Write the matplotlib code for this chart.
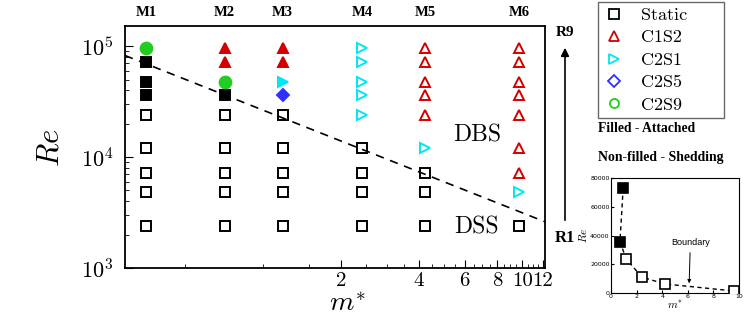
import numpy as np
import matplotlib
matplotlib.use('Agg')
import matplotlib.pyplot as plt
from matplotlib.lines import Line2D
from matplotlib.patches import FancyArrowPatch
from matplotlib.ticker import FixedLocator, FixedFormatter, LogLocator, NullFormatter

plt.rcParams['mathtext.fontset'] = 'cm'

# mass ratio of each case M1..M6
m_star = [0.353, 0.71, 1.19, 2.41, 4.22, 9.73]
m_names = ['M1', 'M2', 'M3', 'M4', 'M5', 'M6']
# Reynolds numbers R1..R9
re_vals = [2400, 4800, 7200, 12000, 24000, 36000, 48000, 72000, 96000]
# regime of each case, rows R1..R9 ('*' = filled = attached)
regimes = [
    ['S', 'S', 'S', 'S', 'S', 'S*', 'S*', 'S*', 'C2S9*'],
    ['S', 'S', 'S', 'S', 'S', 'S*', 'C2S9*', 'C1S2*', 'C1S2*'],
    ['S', 'S', 'S', 'S', 'S', 'C2S5*', 'C2S1*', 'C1S2*', 'C1S2*'],
    ['S', 'S', 'S', 'S', 'C2S1', 'C2S1', 'C2S1', 'C2S1', 'C2S1'],
    ['S', 'S', 'S', 'C2S1', 'C1S2', 'C1S2', 'C1S2', 'C1S2', 'C1S2'],
    ['S', 'C2S1', 'C1S2', 'C1S2', 'C1S2', 'C1S2', 'C1S2', 'C1S2', 'C1S2'],
]
legend_names = ['Static', 'C1S2', 'C2S1', 'C2S5', 'C2S9']
regime_keys = ['S', 'C1S2', 'C2S1', 'C2S5', 'C2S9']

# DBS / DSS boundary (straight in log-log)
bnd_m = [0.293, 12.25]
bnd_re = [82400, 2610]

# inset: boundary cases on linear axes
inset_m = [0.95, 0.7, 1.2, 2.4, 4.2, 9.6]
inset_re = [73000, 35500, 23600, 11100, 6300, 1400]
inset_filled = [True, True, False, False, False, False]

# marker, colour, size
style = {'S': ('s', 'k', 6.5),
         'C1S2': ('^', '#d40000', 7.5),
         'C2S1': ('>', '#00e6f6', 7.5),
         'C2S5': ('D', '#2f2fff', 6),
         'C2S9': ('o', '#22cc22', 8.5)}

W, H = 747, 320
fig = plt.figure(figsize=(W / 100, H / 100), dpi=100)

def px(x, y):
    return x / W, 1 - y / H

ax = fig.add_axes([125 / W, 1 - 268 / H, 420 / W, 242 / H])
ax.set_xscale('log')
ax.set_yscale('log')
ax.set_xlim(0.293, 12.25)
ax.set_ylim(1000, 1.52e5)

for j, m in enumerate(m_star):
    for i, re in enumerate(re_vals):
        code = regimes[j][i]
        filled = code.endswith('*')
        key = code.rstrip('*')
        mk, col, ms = style[key]
        ax.plot(m, re, linestyle='none', marker=mk, ms=ms, mec=col,
                mfc=col if filled else 'none', mew=1.4, zorder=3)

ax.plot(bnd_m, bnd_re, 'k--', lw=1.2, dashes=(5, 4), zorder=2)

ax.xaxis.set_major_locator(FixedLocator([2, 4, 6, 8, 10, 12]))
ax.xaxis.set_major_formatter(FixedFormatter(['2', '4', '6', '8', '10', '12']))
ax.xaxis.set_minor_locator(FixedLocator(np.arange(0.5, 12.1, 0.5)))
ax.xaxis.set_minor_formatter(NullFormatter())
ax.yaxis.set_major_locator(LogLocator(base=10, numticks=10))
ax.yaxis.set_minor_locator(LogLocator(base=10, subs=np.arange(2, 10), numticks=10))
ax.yaxis.set_minor_formatter(NullFormatter())
ax.tick_params(which='both', direction='in', top=False, right=False)
ax.tick_params(axis='x', which='major', length=6, labelsize=15, pad=3)
ax.tick_params(axis='x', which='minor', length=3)
ax.tick_params(axis='y', which='major', length=6, labelsize=16, pad=8.5)
ax.tick_params(axis='y', which='minor', length=3)
for lab in ax.get_xticklabels() + ax.get_yticklabels():
    lab.set_fontfamily('cmr10')
for s in ax.spines.values():
    s.set_linewidth(1.3)

ax.set_xlabel('$m^{*}$', fontsize=20)
ax.xaxis.set_label_coords((347 - 125) / 420, -(303 - 268) / 242)
ax.xaxis.label.set_va('center')
ax.set_ylabel('$Re$', fontsize=22)
ax.yaxis.set_label_coords(-(125 - 50) / 420, (268 - 148) / 242)
ax.yaxis.label.set_va('center')

for m, name in zip(m_star, m_names):
    ax.text(m, 1 + 14 / 242, name, transform=ax.get_xaxis_transform(),
            ha='center', va='center', fontsize=10.5, fontweight='bold',
            family='Liberation Serif')

fig.text(*px(477, 135), 'DBS', ha='center', va='center', fontsize=17, family='cmr10')
fig.text(*px(476, 227), 'DSS', ha='center', va='center', fontsize=17, family='cmr10')

# legend
handles = []
for key, name in zip(regime_keys, legend_names):
    mk, col, ms = style[key]
    handles.append(Line2D([], [], linestyle='none', marker=mk, mec=col, mfc='none',
                          ms=6.5, mew=1.3, label=name))
x0, y0 = px(598, 117)
x1, y1 = px(724, 2)
leg = fig.legend(handles=handles, loc='upper left', mode='expand',
                 bbox_to_anchor=(x0, y0, x1 - x0, y1 - y0),
                 prop={'family': 'cmr10', 'size': 13}, frameon=True, fancybox=False,
                 edgecolor='#444444', handlelength=1.2, handletextpad=0.9,
                 labelspacing=0.375, borderpad=0.3, borderaxespad=0)
leg.get_frame().set_linewidth(1.0)

fig.text(*px(598, 128), 'Filled - Attached', ha='left', va='center', fontsize=9.8,
         fontweight='bold', family='Liberation Serif')
fig.text(*px(598, 157), 'Non-filled - Shedding', ha='left', va='center', fontsize=9.9,
         fontweight='bold', family='Liberation Serif')

# R1 -> R9 arrow
fig.text(*px(565, 33), 'R9', ha='center', va='center', fontsize=11,
         fontweight='bold', family='Liberation Serif')
fig.text(*px(565, 238), 'R1', ha='center', va='center', fontsize=12,
         fontweight='bold', family='Liberation Serif')
fig.patches.append(FancyArrowPatch(
    px(565, 223), px(565, 45), transform=fig.transFigure, arrowstyle='-|>',
    mutation_scale=12, lw=1.2, color='k'))

# inset
axi = fig.add_axes([611 / W, 1 - 293 / H, 128 / W, 115 / H])
axi.plot(inset_m, inset_re, 'k--', lw=1.0, dashes=(3, 2.5), zorder=2)
for m, re, f in zip(inset_m, inset_re, inset_filled):
    axi.plot(m, re, linestyle='none', marker='s', ms=7, mec='k',
             mfc='k' if f else 'white', mew=1.2, zorder=3)
axi.set_xlim(0, 10)
axi.set_ylim(0, 80000)
axi.set_xticks([0, 2, 4, 6, 8, 10])
axi.set_yticks([0, 20000, 40000, 60000, 80000])
axi.tick_params(direction='in', labelsize=4.5, length=2.5, pad=1)
axi.set_xlabel('$m^{*}$', fontsize=8, labelpad=-1)
axi.set_ylabel('$Re$', fontsize=8, labelpad=1)
axi.annotate('Boundary', xy=(6.1, 4800), xytext=(6.2, 35000), ha='center',
             va='center', fontsize=6.5, family='Liberation Sans',
             arrowprops=dict(arrowstyle='-|>', lw=0.7, color='k', mutation_scale=5))
for s in axi.spines.values():
    s.set_linewidth(0.8)

fig.savefig('out.png', dpi=100)
